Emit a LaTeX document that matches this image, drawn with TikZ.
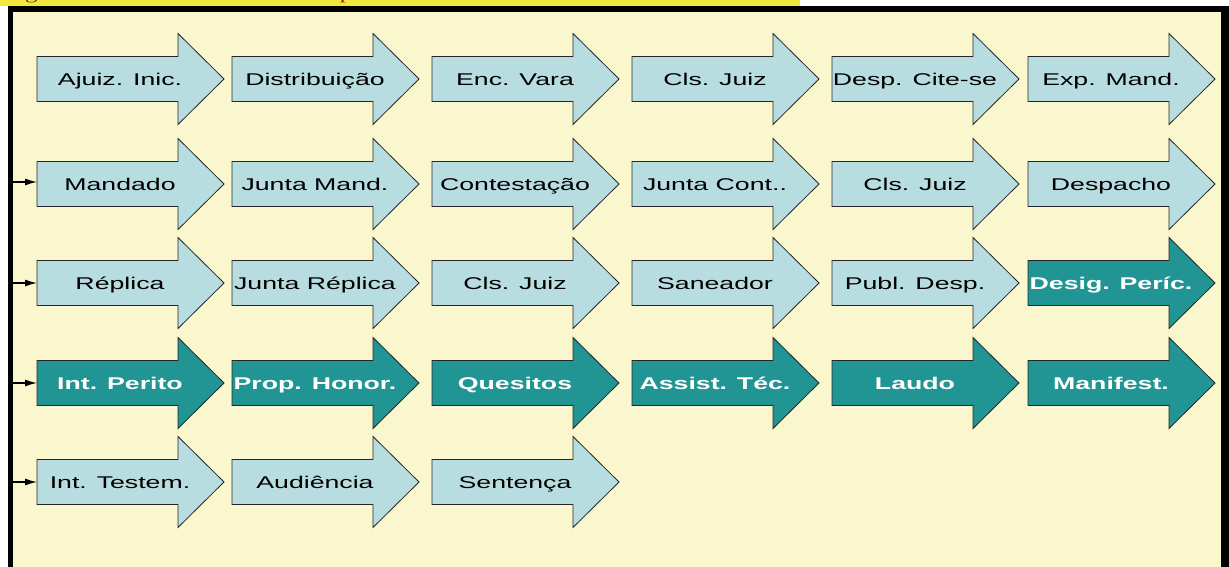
\documentclass[tikz,border=0pt]{standalone}
\usepackage{fontspec}
\setmainfont{Liberation Sans}
\newfontfamily\af[FakeStretch=1.57]{Liberation Sans}
\newfontfamily\capfont[FakeStretch=1.57]{Liberation Serif}
\usetikzlibrary{arrows.meta}
\definecolor{lightbg}{HTML}{FAF7CE}
\definecolor{lblue}{HTML}{B8DDE0}
\definecolor{tealc}{HTML}{219593}
\definecolor{hilite}{HTML}{F0E93C}
\definecolor{capred}{HTML}{8B2A1A}
\tikzset{
  lightarrow/.style={fill=lblue, draw=black!85, line width=0.8pt, line join=miter},
  darkarrow/.style={fill=tealc, draw=black!85, line width=0.8pt, line join=miter},
  lighttext/.style={font=\af\fontsize{17}{20}\selectfont, text=black, inner sep=0pt, anchor=base},
  darktext/.style={font=\af\bfseries\fontsize{17}{20}\selectfont, text=white, inner sep=0pt, anchor=base},
  feed/.style={-{Latex[length=12pt,width=7pt]}, line width=1.3pt, draw=black},
}
% name, x, y, kind (light/dark), text
\newcommand\procarrow[5]{%
  \path[#4arrow] (#2,#3-22.5) -- (#2+141,#3-22.5) -- (#2+141,#3-45.5) -- (#2+187,#3)
     -- (#2+141,#3+45.5) -- (#2+141,#3+22.5) -- (#2,#3+22.5) -- cycle;
  \node[#4text] (#1) at (#2+83,#3+6.2) {#5};
  \coordinate (#1-w) at (#2,#3);
}
\begin{document}
\begin{tikzpicture}[x=1pt,y=-1pt]
\useasboundingbox (0,0) rectangle (1229,566);
\clip (0,0) rectangle (1229,566);
% caption strip
\fill[white] (0,0) rectangle (1229,566);
\fill[hilite] (0,0) rectangle (800,6);
\node[anchor=base west, inner sep=0pt, text=capred, font=\capfont\fontsize{16}{18}\selectfont] (cap) at (4,-1)
  {Figura 3: Fluxo do rito ordinário processo civil – Fase de conhecimento};
% frame
\fill[black] (8,6) rectangle (1229,570);
\fill[lightbg] (13,12) rectangle (1221,570);
% row 1
\procarrow{a1}{37}{79}{light}{Ajuiz. Inic.}
\procarrow{a2}{232}{79}{light}{Distribuição}
\procarrow{a3}{432}{79}{light}{Enc. Vara}
\procarrow{a4}{632}{79}{light}{Cls. Juiz}
\procarrow{a5}{832}{79}{light}{Desp. Cite-se}
\procarrow{a6}{1028}{79}{light}{Exp. Mand.}
% row 2
\procarrow{b1}{37}{184}{light}{Mandado}
\procarrow{b2}{232}{184}{light}{Junta Mand.}
\procarrow{b3}{432}{184}{light}{Contestação}
\procarrow{b4}{632}{184}{light}{Junta Cont..}
\procarrow{b5}{832}{184}{light}{Cls. Juiz}
\procarrow{b6}{1028}{184}{light}{Despacho}
% row 3
\procarrow{c1}{37}{283}{light}{Réplica}
\procarrow{c2}{232}{283}{light}{Junta Réplica}
\procarrow{c3}{432}{283}{light}{Cls. Juiz}
\procarrow{c4}{632}{283}{light}{Saneador}
\procarrow{c5}{832}{283}{light}{Publ. Desp.}
\procarrow{c6}{1028}{283}{dark}{Desig. Períc.}
% row 4
\procarrow{d1}{37}{383}{dark}{Int. Perito}
\procarrow{d2}{232}{383}{dark}{Prop. Honor.}
\procarrow{d3}{432}{383}{dark}{Quesitos}
\procarrow{d4}{632}{383}{dark}{Assist. Téc.}
\procarrow{d5}{832}{383}{dark}{Laudo}
\procarrow{d6}{1028}{383}{dark}{Manifest.}
% row 5
\procarrow{e1}{37}{482}{light}{Int. Testem.}
\procarrow{e2}{232}{482}{light}{Audiência}
\procarrow{e3}{432}{482}{light}{Sentença}
% feed arrows from left bar
\coordinate (s2) at (13,182);
\coordinate (s3) at (13,283);
\coordinate (s4) at (13,383);
\coordinate (s5) at (13,482);
\draw[feed] (s2) -- (b1-w|-s2);
\draw[feed] (s3) -- (c1-w);
\draw[feed] (s4) -- (d1-w);
\draw[feed] (s5) -- (e1-w);
\end{tikzpicture}
\end{document}
